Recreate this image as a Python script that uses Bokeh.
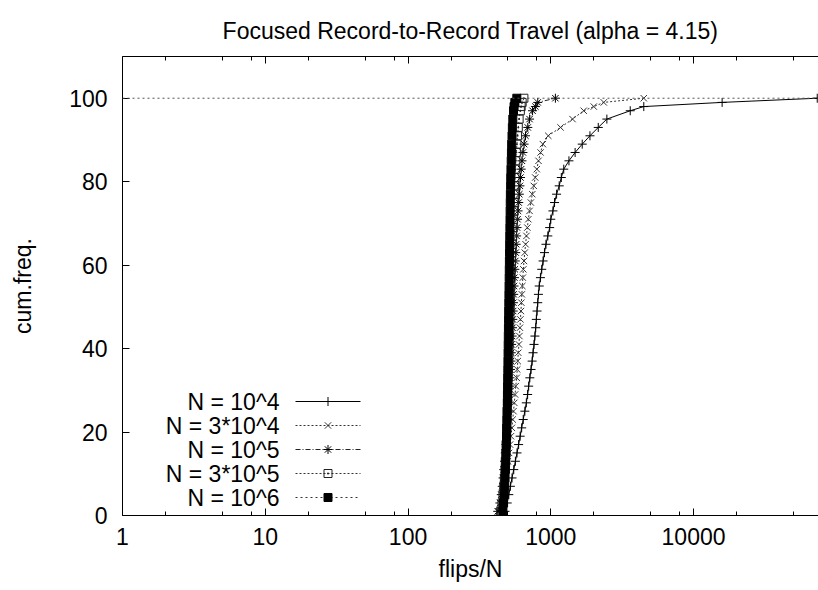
from bokeh.plotting import figure
from bokeh.models import (Range1d, LinearScale, FixedTicker, LogAxis, Span,
                          PrintfTickFormatter)
from bokeh.core.properties import value
from bokeh.embed import file_html
from bokeh.resources import INLINE

# ---------------- data ----------------
title_text = "Focused Record-to-Record Travel (alpha = 4.15)"
x_label = "flips/N"
y_label = "cum.freq."

series_names = ["N = 10^4", "N = 3*10^4", "N = 10^5", "N = 3*10^5", "N = 10^6"]

cum_freq = [1, 3, 5, 7, 9, 11, 13, 15, 17, 19, 21, 23, 25, 27, 29, 31, 33, 35,
            37, 39, 41, 43, 45, 47, 49, 51, 53, 55, 57, 59, 61, 63, 65, 67, 69,
            71, 73, 75, 77, 79, 81, 83, 85, 87, 89, 91, 93, 95, 97, 98, 99, 100]

flips_n1e4 = [478, 495, 508, 521, 535, 550, 565, 580, 595, 610, 625, 641, 658,
              674, 688, 700, 713, 727, 740, 751, 763, 774, 784, 792, 801, 810,
              819, 830, 846, 864, 883, 903, 925, 953, 982, 1000, 1035, 1062,
              1098, 1145, 1185, 1232, 1340, 1480, 1660, 1880, 2150, 2470, 3600,
              4480, 15850, 73500]
flips_n3e4 = [430, 448, 462, 472, 481, 490, 500, 510, 518, 526, 534, 541, 548,
              555, 562, 568, 577, 582, 587, 592, 598, 603, 608, 613, 618, 622,
              627, 632, 637, 642, 649, 657, 666, 675, 685, 696, 710, 725, 742,
              760, 778, 798, 820, 848, 880, 960, 1170, 1420, 1700, 2000, 2350,
              4480]
flips_n1e5 = [425, 440, 450, 457, 463, 468, 474, 480, 485, 490, 495, 499, 503,
              507, 511, 515, 518, 522, 526, 529, 532, 536, 539, 542, 545, 547,
              550, 553, 556, 560, 564, 568, 572, 576, 580, 585, 590, 596, 602,
              608, 614, 620, 628, 638, 650, 665, 690, 710, 745, 780, 810, 1077]
flips_n3e5 = [445, 455, 462, 468, 473, 477, 480, 484, 487, 490, 492, 494, 496,
              498, 500, 502, 504, 506, 508, 510, 512, 514, 516, 518, 520, 522,
              524, 526, 528, 530, 532, 535, 538, 540, 543, 546, 549, 552, 555,
              558, 561, 565, 569, 574, 579, 585, 592, 600, 612, 620, 630, 648]
flips_n1e6 = [462, 467, 471, 475, 478, 481, 484, 486, 488, 490, 491, 493, 494,
              496, 497, 498, 499, 500, 501, 502, 503, 504, 505, 506, 507, 508,
              509, 510, 511, 512, 513, 514, 515, 516, 517, 518, 519, 520, 521,
              523, 524, 526, 528, 530, 532, 535, 538, 542, 548, 553, 560, 578]

x_major_ticks = [1, 10, 100, 1000, 10000]
x_minor_ticks = [2, 5, 8, 20, 50, 80, 200, 500, 800, 2000, 5000, 8000,
                 20000, 50000]
y_ticks = [0, 20, 40, 60, 80, 100]
reference_level = 100

series_x = [flips_n1e4, flips_n3e4, flips_n1e5, flips_n3e5, flips_n1e6]

# ---------------- styles / layout ----------------
FONT = "Liberation Sans"
FS = "23px"
W, H = 818, 590
LEFT, TOP, BOTTOM = 122, 56, 75

styles = [
    dict(dash="solid", lc="black", marker="cross", mc="black", size=9, fill=None),
    dict(dash="2 2", lc="#333333", marker="x", mc="#333333", size=9, fill=None),
    dict(dash="5 2 1 2", lc="#222222", marker="asterisk", mc="black", size=9, fill=None),
    dict(dash="2 2", lc="#333333", marker="square_dot", mc="#222222", size=8, fill=None),
    dict(dash="2 3", lc="#333333", marker="square", mc="black", size=8, fill="black"),
]

p = figure(width=W, height=H, x_axis_type="log",
           x_range=Range1d(1, 75000), y_range=Range1d(0, 110),
           output_backend="svg", toolbar_location=None,
           min_border_left=LEFT, min_border_right=0,
           min_border_top=TOP, min_border_bottom=BOTTOM,
           title=title_text)
p.outline_line_color = None
p.xgrid.visible = False
p.ygrid.visible = False
p.background_fill_color = "white"
p.border_fill_color = "white"

p.title.align = "center"
p.title.text_font = FONT
p.title.text_font_size = FS
p.title.text_font_style = "normal"
p.title.text_color = "black"
p.title.standoff = 26

# pixel-like helper coordinates for the key
p.extra_x_ranges = {"px": Range1d(LEFT, W)}
p.extra_x_scales = {"px": LinearScale()}
p.extra_y_ranges = {"px": Range1d(H - BOTTOM, TOP)}
p.extra_y_scales = {"px": LinearScale()}

xt = FixedTicker(ticks=x_major_ticks, minor_ticks=x_minor_ticks)
yt = FixedTicker(ticks=y_ticks, minor_ticks=[])

for ax in p.xaxis:
    ax.ticker = xt
    ax.formatter = PrintfTickFormatter(format="%d")
for ax in p.yaxis:
    ax.ticker = yt

def style_axis(ax):
    ax.axis_line_color = "black"
    ax.axis_line_width = 1
    ax.major_tick_in = 7
    ax.major_tick_out = 0
    ax.minor_tick_in = 4
    ax.minor_tick_out = 0
    ax.major_tick_line_color = "black"
    ax.minor_tick_line_color = "black"
    ax.major_label_text_font = FONT
    ax.major_label_text_font_size = FS
    ax.major_label_text_color = "black"
    ax.axis_label_text_font = FONT
    ax.axis_label_text_font_size = FS
    ax.axis_label_text_font_style = "normal"
    ax.axis_label_text_color = "black"

for ax in p.xaxis + p.yaxis:
    style_axis(ax)

p.xaxis.axis_label = x_label
p.xaxis.major_label_standoff = 12
p.xaxis.axis_label_standoff = 8
p.yaxis.axis_label = y_label
p.yaxis.major_label_standoff = 15
p.yaxis.axis_label_standoff = 30

top_ax = LogAxis(ticker=FixedTicker(ticks=x_major_ticks, minor_ticks=x_minor_ticks))
style_axis(top_ax)
top_ax.major_label_text_font_size = "1px"
top_ax.major_label_text_alpha = 0
top_ax.major_label_standoff = 0
p.add_layout(top_ax, "above")

p.add_layout(Span(location=reference_level, dimension="width",
                  line_color="#555555", line_dash="2 3", line_width=1))

for xs, st in zip(series_x, styles):
    p.line(xs, cum_freq, line_color=st["lc"], line_dash=st["dash"], line_width=1)
    p.scatter(xs, cum_freq, marker=st["marker"], size=st["size"],
              line_color=st["mc"], fill_color=st["fill"], line_width=1)

# key (gnuplot style: label right-aligned, then sample)
key_rows = [401, 425, 449, 473, 497]
key_text_x, key_x0, key_x1 = 279, 295, 360
p.text(x=[key_text_x] * len(series_names), y=key_rows, text=series_names,
       x_range_name="px", y_range_name="px", text_align="right",
       text_baseline="middle", text_font=value(FONT), text_font_size=FS,
       text_color="black")
for row, st in zip(key_rows, styles):
    p.line([key_x0, key_x1], [row, row], line_color=st["lc"], line_dash=st["dash"],
           line_width=1, x_range_name="px", y_range_name="px")
    p.scatter([(key_x0 + key_x1) / 2], [row], marker=st["marker"], size=st["size"],
              line_color=st["mc"], fill_color=st["fill"], line_width=1,
              x_range_name="px", y_range_name="px")

open("out.html", "w").write(file_html(p, INLINE))
